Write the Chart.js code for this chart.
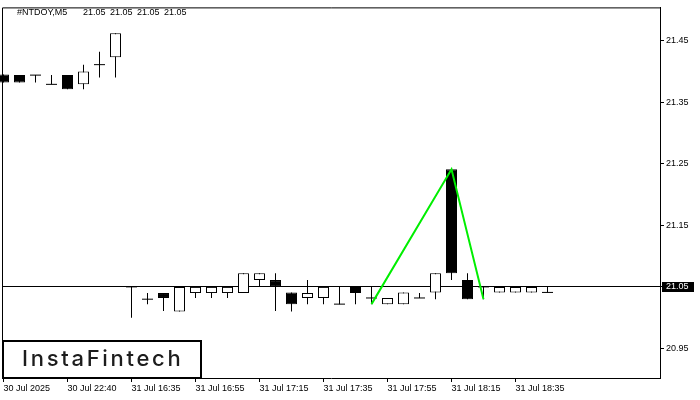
<!DOCTYPE html>
<html>
<head>
<meta charset="utf-8">
<title>NTDOY M5</title>
<script src="https://cdn.jsdelivr.net/npm/chart.js@4.4.1/dist/chart.umd.min.js"></script>
<style>
  html, body { margin: 0; padding: 0; background: #fff; }
  #wrap { width: 700px; height: 400px; }
</style>
</head>
<body>
<div id="wrap"><canvas id="chart" width="700" height="400"></canvas></div>
<script>
// one entry per 5 minute bar, index = bar position on the x axis
const opens  = [21.395, 21.394, 21.394, 21.379, 21.394, 21.379, 21.411, 21.423,
                21.05, 21.030, 21.040, 21.010, 21.040, 21.040, 21.040, 21.040, 21.061, 21.061,
                21.041, 21.032, 21.032, 21.022, 21.05, 21.032, 21.022, 21.022, 21.032,
                21.041, 21.241, 21.061, 21.05, 21.041, 21.041, 21.041, 21.041];
const highs  = [21.395, 21.394, 21.394, 21.394, 21.394, 21.411, 21.432, 21.462,
                21.05, 21.040, 21.040, 21.05, 21.05, 21.05, 21.05, 21.072, 21.072, 21.072,
                21.041, 21.061, 21.05, 21.05, 21.05, 21.05, 21.032, 21.041, 21.040,
                21.072, 21.241, 21.072, 21.05, 21.05, 21.05, 21.05, 21.05];
const lows   = [21.382, 21.382, 21.382, 21.379, 21.371, 21.371, 21.390, 21.390,
                21.000, 21.022, 21.011, 21.010, 21.032, 21.032, 21.032, 21.040, 21.05, 21.011,
                21.010, 21.022, 21.022, 21.022, 21.022, 21.022, 21.022, 21.022, 21.032,
                21.030, 21.061, 21.030, 21.030, 21.041, 21.041, 21.041, 21.041];
const closes = [21.382, 21.382, 21.394, 21.379, 21.371, 21.400, 21.411, 21.462,
                21.05, 21.030, 21.032, 21.05, 21.05, 21.05, 21.05, 21.072, 21.072, 21.05,
                21.022, 21.040, 21.05, 21.022, 21.040, 21.032, 21.032, 21.041, 21.032,
                21.072, 21.072, 21.030, 21.05, 21.05, 21.05, 21.05, 21.041];

// x axis labels, one every 4 bars
const timeLabels = ['30 Jul 2025', '30 Jul 22:40', '31 Jul 16:35', '31 Jul 16:55', '31 Jul 17:15',
                    '31 Jul 17:35', '31 Jul 17:55', '31 Jul 18:15', '31 Jul 18:35'];
const priceTicks = [20.95, 21.05, 21.15, 21.25, 21.35, 21.45];

const symbol = '#NTDOY,M5';
const quote = [21.05, 21.05, 21.05, 21.05];
const lastPrice = 21.05;

// pattern line (bar index, price)
const patternBars = [23, 28, 30];
const patternPrices = [21.022, 21.241, 21.030];

const tickFont = { family: '"Liberation Sans", Arial, sans-serif', size: 9 };

// build datasets from the arrays
const bodies = [], bodyColors = [], wicks = [], dojis = [];
opens.forEach((o, i) => {
    const c = closes[i];
    wicks.push({ x: i, y: [lows[i], highs[i]] });
    if (o === c) {
        dojis.push({ x: i, y: o });
    } else {
        bodies.push({ x: i, y: [o, c] });
        bodyColors.push(c > o ? '#ffffff' : '#000000');
    }
});
const pattern = patternBars.map((b, k) => ({ x: b, y: patternPrices[k] }));

const chartDecor = {
    id: 'chartDecor',
    beforeDraw(chart) {
        const { ctx, chartArea: a, scales: { y } } = chart;
        ctx.save();
        ctx.fillStyle = '#fff';
        ctx.fillRect(0, 0, chart.width, chart.height);
        // black box behind current price label
        const py = y.getPixelForValue(lastPrice);
        ctx.fillStyle = '#000';
        ctx.fillRect(a.right + 2, Math.round(py) - 5, 32, 10);
        ctx.restore();
    },
    beforeDatasetsDraw(chart) {
        const { ctx, chartArea: a, scales: { y } } = chart;
        const py = Math.round(y.getPixelForValue(lastPrice)) - 0.5;
        ctx.save();
        ctx.strokeStyle = '#000';
        ctx.lineWidth = 1;
        ctx.beginPath();
        ctx.moveTo(a.left, py);
        ctx.lineTo(a.right + 2, py);
        ctx.stroke();
        ctx.restore();
    },
    afterDraw(chart) {
        const { ctx, chartArea: a } = chart;
        ctx.save();
        // left and top frame
        ctx.strokeStyle = '#000';
        ctx.lineWidth = 1;
        ctx.beginPath();
        ctx.moveTo(a.left + 0.5, a.bottom);
        ctx.lineTo(a.left + 0.5, a.top + 0.5);
        ctx.lineTo(a.right, a.top + 0.5);
        ctx.stroke();

        // title
        ctx.fillStyle = '#000';
        ctx.font = '9px "Liberation Sans", Arial, sans-serif';
        ctx.textBaseline = 'alphabetic';
        ctx.fillText(symbol, 17, 15);
        quote.forEach((q, k) => ctx.fillText(q.toFixed(2), 83 + k * 27, 15));

        // logo
        ctx.fillStyle = '#fff';
        ctx.fillRect(3, 341, 198, 37);
        ctx.lineWidth = 2;
        ctx.strokeRect(3, 341, 198, 37);
        ctx.fillStyle = '#1c1c1c';
        ctx.font = '500 22px Inter, "Noto Sans", sans-serif';
        ctx.letterSpacing = '2.7px';
        ctx.fillText('InstaFintech', 22, 366);
        ctx.restore();
    }
};

new Chart(document.getElementById('chart'), {
    type: 'bar',
    data: {
        datasets: [
            {
                type: 'line',
                data: pattern,
                borderColor: '#00ee00',
                borderWidth: 2,
                pointRadius: 0,
                tension: 0,
                order: 0
            },
            {
                type: 'line',
                data: dojis,
                showLine: false,
                pointStyle: 'line',
                pointRadius: 5.5,
                pointBorderWidth: 1,
                pointBorderColor: '#000',
                order: 1
            },
            {
                data: bodies,
                backgroundColor: bodyColors,
                borderColor: '#000',
                borderWidth: 1,
                borderSkipped: false,
                barThickness: 11,
                grouped: false,
                inflateAmount: 0,
                clip: false,
                order: 1
            },
            {
                data: wicks,
                backgroundColor: '#000',
                borderWidth: 0,
                barThickness: 1,
                grouped: false,
                inflateAmount: 0,
                order: 2
            }
        ]
    },
    options: {
        responsive: false,
        animation: false,
        devicePixelRatio: 1,
        events: [],
        layout: { autoPadding: false, padding: { left: 2, top: 2, right: 0, bottom: 0 } },
        plugins: { legend: { display: false }, tooltip: { enabled: false } },
        scales: {
            x: {
                type: 'linear',
                offset: false,
                min: -0.09375,
                max: 41.03125,
                afterBuildTicks: s => { s.ticks = timeLabels.map((_, k) => ({ value: k * 4 })); },
                afterFit: s => { s.height = 22; s.paddingLeft = 0; s.paddingRight = 0; },
                ticks: {
                    align: 'start',
                    autoSkip: false,
                    maxRotation: 0,
                    padding: 1,
                    color: '#000',
                    font: tickFont,
                    callback: v => timeLabels[v / 4]
                },
                grid: { offset: false, drawOnChartArea: false, tickLength: 4, color: '#000' },
                border: { color: '#000' }
            },
            y: {
                type: 'linear',
                position: 'right',
                min: 20.902,
                max: 21.504,
                afterBuildTicks: s => { s.ticks = priceTicks.map(v => ({ value: v })); },
                afterFit: s => { s.width = 40; },
                ticks: {
                    padding: 2,
                    color: c => (c.tick.value === lastPrice ? '#fff' : '#000'),
                    font: tickFont,
                    callback: v => v.toFixed(2)
                },
                grid: { drawOnChartArea: false, tickLength: 4, color: '#000' },
                border: { color: '#000' }
            }
        }
    },
    plugins: [chartDecor]
});
</script>
</body>
</html>
